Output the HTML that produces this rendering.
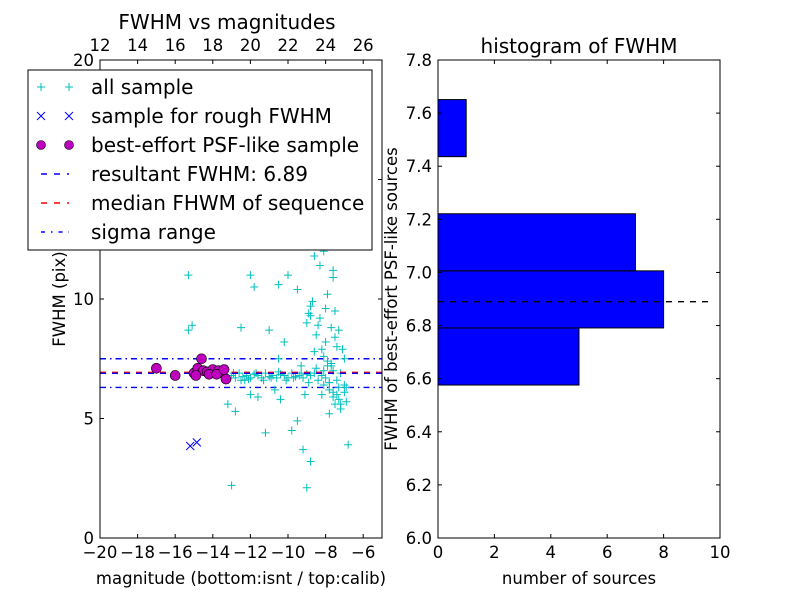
<!DOCTYPE html>
<html><head><meta charset="utf-8"><style>
html,body{margin:0;padding:0;background:#fff}
svg{display:block;font-family:"DejaVu Sans","Liberation Sans",sans-serif}
</style></head><body>
<svg id="c" width="800" height="600" viewBox="0 0 800 600"></svg>
<script>
// ---- left scatter data ----
const allMag=[-15.3,-15.3,-15.1,-13.0,-13.2,-12.8,-12.3,-12.5,-12.0,-11.8,-11.2,-11.0,-10.5,-10.2,-10.0,-9.8,-9.5,-9.2,-9.0,-8.8,-9.7,-9.5,-8.8,-8.5,-8.3,-8.1,-8.0,-7.8,-7.5,-7.3,-7.0,-6.8,-7.8,-7.5,-8.2,-9.1,-10.7,-11.6,-12.0,-10.4,-8.6,-8.0,-7.7,-7.2,-6.9,-9.0,-8.7,-10.5,-7.9,-7.6,-8.4,-8.2,-7.4,-7.1,-8.9,-9.3,-7.8,-7.6,
-8.1,-7.9,-8.3,-7.7,-8.0,-7.5,-8.2,-7.8,-7.6,-8.4,-7.3,-7.9,-8.1,-7.4,-7.2,-7.0,-6.9,-7.6,-8.6,-8.8,
-13.0,-12.8,-12.6,-12.4,-12.2,-12.0,-11.8,-11.6,-11.4,-11.2,-11.0,-10.8,-10.6,-10.4,-10.2,-10.0,-9.8,-9.6,-9.4,-9.2,-9.0,-8.8,-8.6,-8.4,-8.2,-8.0,-7.8,-7.6,-7.4,-7.2,-7.0,-12.9,-12.5,-12.1,-11.7,-11.3,-10.9,-10.5,-10.1,-9.7,-9.3,-8.9,-8.5,-8.1,-7.7,-7.3];
const allFwhm=[11.0,8.7,8.9,2.2,5.6,5.3,6.6,8.8,11.0,10.5,4.4,8.7,10.6,8.2,11.0,4.5,4.9,3.7,2.1,3.2,12.2,10.4,9.7,8.5,11.4,12.0,13.0,12.5,9.5,8.7,7.5,3.9,5.2,5.6,6.0,6.0,6.2,5.9,6.0,5.8,7.8,8.2,7.3,5.4,6.3,9.0,9.9,7.5,10.2,11.2,13.5,14.2,8.0,7.9,9.4,7.2,6.5,6.1,
7.6,7.2,9.2,8.8,9.6,8.4,7.9,6.2,5.9,8.9,5.8,7.4,7.0,6.0,5.6,6.1,5.7,10.9,11.8,9.3,
6.8,6.7,6.9,6.75,6.8,6.7,6.85,6.8,6.7,6.9,6.75,6.8,6.7,6.85,6.8,6.7,6.9,6.75,6.8,6.7,6.85,6.8,6.9,6.6,6.8,6.7,6.5,7.0,6.6,6.9,6.4,6.9,6.6,6.65,6.9,6.6,6.7,6.95,6.6,6.7,6.9,6.5,7.1,6.4,7.2,6.3];
const roughMag=[-15.2,-14.85];
const roughFwhm=[3.85,4.0];
const bestMag=[-17.0,-16.0,-15.0,-14.8,-14.6,-14.5,-14.3,-14.0,-13.7,-13.5,-13.3,-14.9,-14.2,-13.8,-13.4];
const bestFwhm=[7.1,6.8,6.9,7.1,7.5,7.0,6.95,7.05,7.0,6.9,6.65,6.8,6.85,6.85,7.05];
const resultFwhm=6.89, medianFwhm=6.93, sigmaLo=6.3, sigmaHi=7.5;
const xTicks=[-20,-18,-16,-14,-12,-10,-8,-6];
const xTickLabels=["\u221220","\u221218","\u221216","\u221214","\u221212","\u221210","\u22128","\u22126"];
const yTicks=[0,5,10,15,20];
const topTicks=[12,14,16,18,20,22,24,26];
// ---- histogram data ----
const binLo=[6.576,6.791,7.006,7.221,7.436];
const binHi=[6.791,7.006,7.221,7.436,7.651];
const binCounts=[5,8,7,0,1];
const hxTicks=[0,2,4,6,8,10];
const hyTicks=[6.0,6.2,6.4,6.6,6.8,7.0,7.2,7.4,7.6,7.8];

const NS="http://www.w3.org/2000/svg";
const svg=document.getElementById('c');
function mk(tag,attrs,parent){const e=document.createElementNS(NS,tag);for(const k in attrs)e.setAttribute(k,attrs[k]);(parent||svg).appendChild(e);return e;}
function txt(s,x,y,size,anchor,parent){const t=mk('text',{x:x,y:y,'font-size':size,'text-anchor':anchor||'middle',fill:'#000'},parent);t.textContent=s;return t;}

const TF=16.5, AF=16.5;
// left axes
const L={x0:100,x1:382,y0:538,y1:60};
const lx=v=>L.x0+(v+20)/15*(L.x1-L.x0);
const ly=v=>L.y0-v/20*(L.y0-L.y1);
const tx=v=>L.x0+(v-12)/15*(L.x1-L.x0);
const gL=mk('g',{});


const clip=mk('clipPath',{id:'cl'},mk('defs',{}));
mk('rect',{x:L.x0,y:L.y1,width:L.x1-L.x0,height:L.y0-L.y1},clip);
const plot=mk('g',{'clip-path':'url(#cl)'},gL);
function hline(v,color,dash,name){const l=mk('line',{x1:L.x0,x2:L.x1,y1:ly(v),y2:ly(v),stroke:color,'stroke-width':1.4,'stroke-dasharray':dash},plot);}
hline(sigmaLo,'#0000ff','6,4,1.5,4','sigma-low-line');
hline(sigmaHi,'#0000ff','6,4,1.5,4','sigma-high-line');
for(let i=0;i<allMag.length;i++){const x=lx(allMag[i]),y=ly(allFwhm[i]);const p=mk('path',{d:`M${x-4},${y}H${x+4}M${x},${y-4}V${y+4}`,stroke:'#00bfbf','stroke-width':1},plot);}
hline(medianFwhm,'#ff0000','6,6','median-fwhm-line');
hline(resultFwhm,'#0000ff','6,6','resultant-fwhm-line');
for(let i=0;i<roughMag.length;i++){const x=lx(roughMag[i]),y=ly(roughFwhm[i]);const p=mk('path',{d:`M${x-4},${y-4}L${x+4},${y+4}M${x-4},${y+4}L${x+4},${y-4}`,stroke:'#0000ff','stroke-width':1},plot);}
for(let i=0;i<bestMag.length;i++){const c=mk('circle',{cx:lx(bestMag[i]),cy:ly(bestFwhm[i]),r:5,fill:'#bf00bf',stroke:'#000','stroke-width':0.6},plot);}
mk('rect',{x:L.x0,y:L.y1,width:L.x1-L.x0,height:L.y0-L.y1,fill:'none',stroke:'#000','stroke-width':1},gL);
xTicks.forEach((v,i)=>{const x=lx(v);mk('line',{x1:x,x2:x,y1:L.y0,y2:L.y0-4,stroke:'#000'},gL);txt(xTickLabels[i],x,558,TF,'middle',gL);});
topTicks.forEach(v=>{const x=tx(v);mk('line',{x1:x,x2:x,y1:L.y1,y2:L.y1+4,stroke:'#000'},gL);txt(String(v),x,51,TF,'middle',gL);});
yTicks.forEach(v=>{const y=ly(v);mk('line',{x1:L.x0,x2:L.x0+4,y1:y,y2:y,stroke:'#000'},gL);mk('line',{x1:L.x1,x2:L.x1-4,y1:y,y2:y,stroke:'#000'},gL);txt(String(v),L.x0-6,y+6,TF,'end',gL);});
const xt=txt('magnitude (bottom:isnt / top:calib)',241,584,AF,'middle',gL);
const yt=txt('FWHM (pix)',0,0,AF,'middle',gL);yt.setAttribute('transform','translate(65,299) rotate(-90)');
const t1=txt('FWHM vs magnitudes',227,29,20,'middle',gL);

// legend
const lg=mk('g',{});


mk('rect',{x:28,y:70,width:344,height:180,fill:'#fff',stroke:'#000','stroke-width':1},lg);
const labels=['all sample','sample for rough FWHM','best-effort PSF-like sample','resultant FWHM: 6.89','median FHWM of sequence','sigma range'];
labels.forEach((s,i)=>{const y=87+i*29;const e=mk('g',{},lg);
 [41,69].forEach(x=>{
  if(i==0)mk('path',{d:`M${x-4},${y}H${x+4}M${x},${y-4}V${y+4}`,stroke:'#00bfbf'},e);
  if(i==1)mk('path',{d:`M${x-4},${y-4}L${x+4},${y+4}M${x-4},${y+4}L${x+4},${y-4}`,stroke:'#0000ff'},e);
  if(i==2)mk('circle',{cx:x,cy:y,r:4.5,fill:'#bf00bf',stroke:'#000','stroke-width':0.6},e);
 });
 if(i==3)mk('line',{x1:41,x2:69,y1:y,y2:y,stroke:'#0000ff','stroke-width':1.4,'stroke-dasharray':'6,7'},e);
 if(i==4)mk('line',{x1:41,x2:69,y1:y,y2:y,stroke:'#ff0000','stroke-width':1.4,'stroke-dasharray':'6,7'},e);
 if(i==5)mk('line',{x1:41,x2:69,y1:y,y2:y,stroke:'#0000ff','stroke-width':1.4,'stroke-dasharray':'4,6,1.5,6'},e);
 const t=txt(s,91,y+7,20,'start',e);
});

// right histogram
const R={x0:438,x1:720,y0:538,y1:60};
const rx=v=>R.x0+v/10*(R.x1-R.x0);
const ry=v=>R.y0-(v-6)/1.8*(R.y0-R.y1);
const gR=mk('g',{});


binCounts.forEach((n,i)=>{if(n<=0)return;const b=mk('rect',{x:rx(0),y:ry(binHi[i]),width:rx(n)-rx(0),height:ry(binLo[i])-ry(binHi[i]),fill:'#0000ff',stroke:'#000','stroke-width':1},gR);});
const rl=mk('line',{x1:rx(0),x2:rx(9.7),y1:ry(resultFwhm),y2:ry(resultFwhm),stroke:'#000','stroke-width':1.4,'stroke-dasharray':'6,6'},gR);

mk('rect',{x:R.x0,y:R.y1,width:R.x1-R.x0,height:R.y0-R.y1,fill:'none',stroke:'#000'},gR);
hxTicks.forEach(v=>{const x=rx(v);mk('line',{x1:x,x2:x,y1:R.y0,y2:R.y0-4,stroke:'#000'},gR);mk('line',{x1:x,x2:x,y1:R.y1,y2:R.y1+4,stroke:'#000'},gR);txt(String(v),x,558,TF,'middle',gR);});
hyTicks.forEach(v=>{const y=ry(v);mk('line',{x1:R.x0,x2:R.x0+4,y1:y,y2:y,stroke:'#000'},gR);mk('line',{x1:R.x1,x2:R.x1-4,y1:y,y2:y,stroke:'#000'},gR);txt(v.toFixed(1),R.x0-6,y+6,TF,'end',gR);});
const hx=txt('number of sources',579,584,AF,'middle',gR);
const hy=txt('FWHM of best-effort PSF-like sources',0,0,AF,'middle',gR);hy.setAttribute('transform','translate(397,299) rotate(-90)');
const t2=txt('histogram of FWHM',579,53,20,'middle',gR);
</script>
</body></html>
